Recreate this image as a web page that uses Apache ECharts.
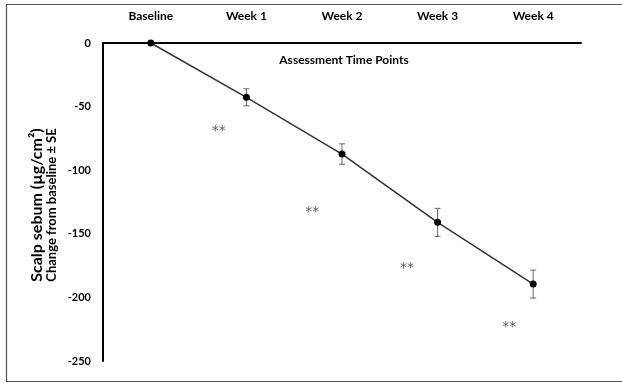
<!DOCTYPE html>
<html>
<head>
<meta charset="utf-8">
<script src="https://cdn.jsdelivr.net/npm/echarts@6/dist/echarts.min.js"></script>
<style>
  html, body { margin: 0; padding: 0; background: #fff; }
  #chart { width: 622px; height: 383px; }
</style>
</head>
<body>
<div id="chart"></div>
<script>
// Time points and mean change in scalp sebum (µg/cm²) with standard errors
const timePoints = ['Baseline', 'Week 1', 'Week 2', 'Week 3', 'Week 4'];
const meanChange = [0, -42.7, -87.3, -141, -189.5];
const stdError = [0, 6.7, 8, 11, 11];

// Significance markers, placed in data space (fractional time index, change value)
const sigX = [0.71, 1.69, 2.68, 3.75];
const sigY = [-67, -130.7, -174.5, -221];
const sigText = ['**', '**', '**', '**'];

const yTicks = { min: -250, max: 0, interval: 50 };

const FONT = 'Lato, "Open Sans", sans-serif';

const chart = echarts.init(document.getElementById('chart'));

const errorData = timePoints.map((t, i) => [i, meanChange[i] + stdError[i], meanChange[i] - stdError[i]]);
const sigData = sigX.map((x, i) => ({ value: [x, sigY[i]], label: { formatter: sigText[i] } }));

chart.setOption({
  animation: false,
  backgroundColor: '#fff',
  grid: { left: 103, right: 41, top: 43, bottom: 22, outerBoundsMode: 'none', containLabel: false },
  xAxis: [
    {
      type: 'category',
      data: timePoints,
      position: 'top',
      boundaryGap: true,
      axisLine: { lineStyle: { color: '#000', width: 2 } },
      axisTick: { show: false },
      axisLabel: { margin: 21, color: '#000', fontFamily: FONT, fontWeight: 'bold', fontSize: 12 },
      splitLine: { show: false }
    },
    {
      type: 'value',
      min: -0.5,
      max: 4.5,
      show: false
    }
  ],
  yAxis: {
    type: 'value',
    min: yTicks.min,
    max: yTicks.max,
    interval: yTicks.interval,
    axisLine: { show: true, onZero: false, lineStyle: { color: '#000', width: 2 } },
    axisTick: { show: false },
    splitLine: { show: false },
    axisLabel: { margin: 12, color: '#000', fontFamily: FONT, fontWeight: 'bold', fontSize: 11 }
  },
  graphic: [
    {
      type: 'rect',
      shape: { x: 6.5, y: 4.5, width: 640, height: 377 },
      style: { fill: 'none', stroke: '#555', lineWidth: 1.2 },
      silent: true
    },
    {
      type: 'text',
      x: 344,
      y: 60,
      style: {
        text: 'Assessment Time Points',
        align: 'center',
        verticalAlign: 'middle',
        fontFamily: FONT, fontWeight: 'bold', fontSize: 12, fill: '#000'
      }
    },
    {
      type: 'text',
      x: 44,
      y: 205,
      rotation: Math.PI / 2,
      style: {
        text: '{a|Scalp sebum (µg/cm²)}\n{b|Change from baseline ± SE}',
        align: 'center',
        verticalAlign: 'middle',
        rich: {
          a: { fontFamily: FONT, fontWeight: 'bold', fontSize: 16, lineHeight: 16, fill: '#000', align: 'center' },
          b: { fontFamily: FONT, fontWeight: 'bold', fontSize: 13, lineHeight: 15, fill: '#000', align: 'center' }
        }
      }
    }
  ],
  series: [
    {
      type: 'line',
      data: meanChange,
      symbol: 'circle',
      symbolSize: 7,
      itemStyle: { color: '#000' },
      lineStyle: { color: '#333', width: 1.5 },
      z: 3
    },
    {
      type: 'custom',
      data: errorData,
      z: 2,
      renderItem: function (params, api) {
        const i = api.value(0);
        const top = api.coord([i, api.value(1)]);
        const bot = api.coord([i, api.value(2)]);
        const cap = 3;
        const style = { stroke: '#666', lineWidth: 1 };
        return {
          type: 'group',
          children: [
            { type: 'line', shape: { x1: top[0], y1: top[1], x2: bot[0], y2: bot[1] }, style: style },
            { type: 'line', shape: { x1: top[0] - cap, y1: top[1], x2: top[0] + cap, y2: top[1] }, style: style },
            { type: 'line', shape: { x1: bot[0] - cap, y1: bot[1], x2: bot[0] + cap, y2: bot[1] }, style: style }
          ]
        };
      }
    },
    {
      type: 'scatter',
      xAxisIndex: 1,
      data: sigData,
      symbolSize: 1,
      itemStyle: { color: 'rgba(0,0,0,0)' },
      label: {
        show: true,
        position: 'inside',
        color: '#333',
        fontFamily: '"DejaVu Sans", sans-serif',
        fontSize: 14,
        offset: [0, 3]
      }
    }
  ]
});
</script>
</body>
</html>
